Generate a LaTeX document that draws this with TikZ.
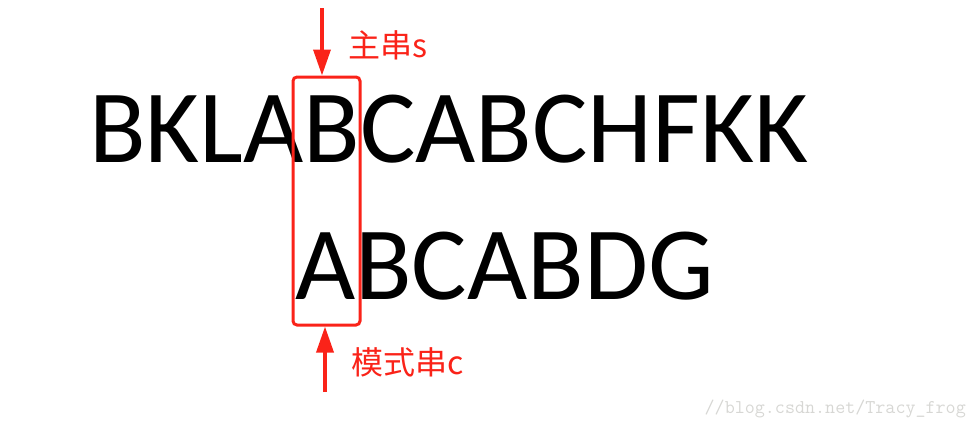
\documentclass[tikz,border=0pt]{standalone}
\usepackage{fontspec}
\setmainfont{Carlito}
\newfontfamily\cjk{Noto Sans CJK SC}
\usetikzlibrary{arrows.meta}
\definecolor{myred}{RGB}{250,35,25}
\definecolor{wm}{RGB}{215,215,212}
\tikzset{
  bigtext/.style={anchor=base west, inner sep=0pt, font=\fontsize{104}{104}\selectfont},
  lbl/.style={anchor=west, inner sep=0pt, text=myred, font=\cjk\fontsize{32}{32}\selectfont},
  markbox/.style={draw=myred, line width=3pt, rounded corners=4pt, minimum width=67pt, minimum height=248pt, inner sep=0pt},
  pointer/.style={draw=myred, line width=3.5pt, -{Triangle[width=17pt,length=26pt]}}
}
\begin{document}
\begin{tikzpicture}[x=1pt,y=-1pt]
\useasboundingbox (0,0) rectangle (975,426);
\node[bigtext] (s) at (89,162) {BKLABCABCHFKK};
\node[bigtext] (c) at (295,299) {ABCABDG};
\node[markbox] (box) at (326.5,201) {};
\coordinate (ttop) at (322,8);
\coordinate (bbot) at (325,392);
\draw[pointer] (ttop) -- (ttop |- box.north);
\draw[pointer] (bbot) -- (bbot |- box.south);
\node[lbl] (ls) at (348,45) {主串s};
\node[lbl] (lc) at (351,362) {模式串c};
\node[anchor=east, inner sep=0pt, text=wm, font=\ttfamily\fontsize{19.5}{19.5}\selectfont] (w) at (966,409) {//blog.csdn.net/Tracy\_frog};
\end{tikzpicture}
\end{document}
